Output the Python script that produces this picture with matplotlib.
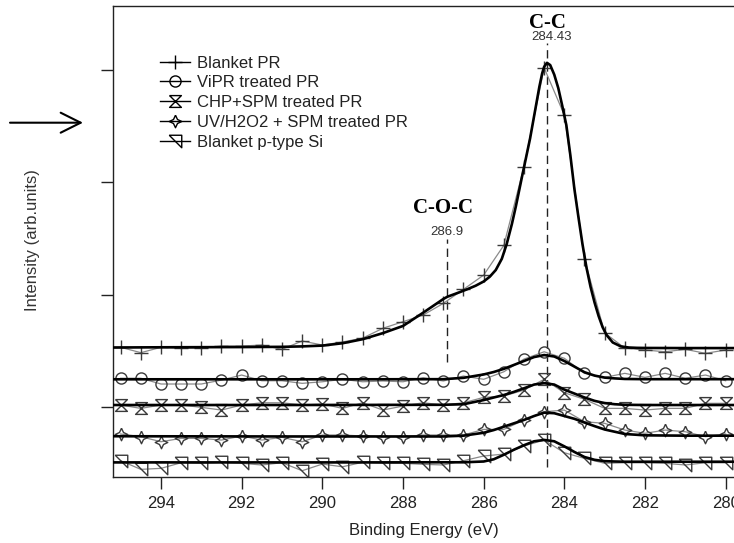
import matplotlib
matplotlib.use("Agg")
import matplotlib.pyplot as plt
from matplotlib.lines import Line2D

plt.rcParams['font.family'] = ['Liberation Sans', 'DejaVu Sans']

# ---- measured spectra (binding energy in eV, intensity in arb. units, stacked) ----
energy_raw = [295.0, 294.5, 294.0, 293.5, 293.0, 292.5, 292.0, 291.5, 291.0, 290.5,
              290.0, 289.5, 289.0, 288.5, 288.0, 287.5, 287.0, 286.5, 286.0, 285.5,
              285.0, 284.5, 284.0, 283.5, 283.0, 282.5, 282.0, 281.5, 281.0, 280.5, 280.0]

raw_blanket_pr = [15.32, 14.84, 15.32, 15.23, 15.23, 15.43, 15.43, 15.52, 15.14, 15.88,
                  15.52, 15.79, 16.14, 17.01, 17.60, 18.19, 19.23, 20.48, 21.75, 24.40,
                  31.40, 40.20, 36.00, 23.20, 16.60, 15.25, 15.08, 14.92, 15.14, 14.78, 15.08]
raw_vipr = [12.56, 12.56, 12.05, 12.05, 12.05, 12.40, 12.85, 12.34, 12.34, 12.11,
            12.25, 12.47, 12.25, 12.32, 12.25, 12.61, 12.32, 12.76, 12.47, 13.14,
            14.27, 14.92, 14.34, 13.00, 12.64, 13.00, 12.64, 13.00, 12.56, 12.85, 12.34]
raw_chp_spm = [10.18, 9.88, 10.18, 10.18, 9.97, 9.73, 10.18, 10.38, 10.38, 10.18,
               10.27, 9.88, 10.38, 9.73, 10.09, 10.38, 10.18, 10.38, 10.86, 10.98,
               11.51, 12.47, 11.27, 10.69, 9.88, 9.88, 9.73, 9.88, 9.88, 10.33, 10.33]
raw_uv_spm = [7.60, 7.36, 6.91, 7.21, 7.21, 7.06, 7.42, 7.06, 7.30, 6.91,
              7.51, 7.51, 7.42, 7.36, 7.36, 7.51, 7.51, 7.51, 8.01, 8.01,
              8.84, 9.58, 9.73, 8.69, 8.55, 7.95, 7.66, 7.95, 7.80, 7.36, 7.60]
raw_si = [5.22, 4.45, 4.54, 5.04, 4.99, 5.08, 4.99, 4.84, 5.04, 4.33,
          4.92, 4.68, 5.08, 4.99, 4.99, 4.90, 4.84, 5.22, 5.64, 5.81,
          6.53, 7.06, 5.93, 5.43, 4.99, 5.04, 5.04, 4.99, 4.84, 5.04, 5.04]

# ---- fitted envelopes ----
energy_fit_pr = [295.2, 294.0, 293.0, 292.0, 291.0, 290.5, 290.0, 289.5, 289.0, 288.5,
                 288.0, 287.5, 287.0, 286.9, 286.6, 286.4, 286.2, 286.0, 285.85, 285.7,
                 285.55, 285.43, 285.3, 285.2, 285.05, 284.95, 284.85, 284.74, 284.62,
                 284.55, 284.5, 284.43, 284.35, 284.25, 284.15, 284.05, 283.95, 283.85,
                 283.75, 283.65, 283.55, 283.45, 283.35, 283.25, 283.15, 283.05, 282.95,
                 282.8, 282.6, 282.4, 282.2, 282.0, 281.0, 280.0, 279.0]
fit_blanket_pr = [15.30, 15.32, 15.33, 15.34, 15.36, 15.40, 15.47, 15.68, 16.04, 16.58,
                  17.22, 18.40, 19.62, 19.82, 20.22, 20.50, 20.80, 21.18, 21.60, 22.20,
                  23.20, 24.50, 26.30, 27.90, 30.50, 32.20, 33.90, 36.10, 38.50,
                  39.70, 40.30, 40.65, 40.45, 39.60, 38.40, 36.80, 35.10, 32.40,
                  29.40, 26.90, 24.50, 22.40, 20.70, 19.30, 18.10, 17.10, 16.40,
                  15.75, 15.40, 15.30, 15.27, 15.26, 15.25, 15.25, 15.25]

energy_fit = [295.2, 293.0, 291.0, 289.0, 287.0, 286.5, 286.0, 285.75, 285.5, 285.25,
              285.0, 284.75, 284.5, 284.25, 284.0, 283.75, 283.5, 283.25, 283.0, 282.75,
              282.5, 282.0, 281.0, 280.0, 279.0]
fit_vipr = [12.47, 12.47, 12.47, 12.47, 12.48, 12.60, 12.90, 13.12, 13.40, 13.75,
            14.10, 14.45, 14.63, 14.50, 14.10, 13.60, 13.10, 12.80, 12.62, 12.55,
            12.50, 12.48, 12.48, 12.48, 12.48]
fit_chp_spm = [10.18, 10.18, 10.18, 10.19, 10.20, 10.25, 10.62, 10.85, 11.07, 11.35,
               11.67, 12.00, 12.13, 12.00, 11.55, 11.20, 10.85, 10.55, 10.35, 10.25,
               10.20, 10.18, 10.18, 10.18, 10.18]
fit_uv_spm = [7.40, 7.39, 7.38, 7.38, 7.38, 7.45, 7.71, 7.95, 8.25, 8.55,
              8.85, 9.20, 9.50, 9.45, 9.20, 8.95, 8.62, 8.30, 8.00, 7.80,
              7.60, 7.48, 7.45, 7.45, 7.45]
fit_si = [5.07, 5.07, 5.07, 5.07, 5.08, 5.08, 5.15, 5.35, 5.75, 6.20,
          6.60, 6.95, 7.07, 6.95, 6.50, 6.00, 5.55, 5.30, 5.18, 5.15,
          5.13, 5.13, 5.13, 5.13, 5.13]

series_labels = ["Blanket PR", "ViPR treated PR", "CHP+SPM treated PR",
                 "UV/H2O2 + SPM treated PR", "Blanket p-type Si"]

peak_cc = 284.43
peak_coc = 286.9
xticks = [294, 292, 290, 288, 286, 284, 282, 280]
yticks = [10, 20, 30, 40]

# ---- marker shapes ----
hourglass = [(-1, 1), (1, 1), (-1, -1), (1, -1), (-1, 1)]
corner_tri = [(-1, 1), (1, 1), (1, -1), (-1, 1)]
star4 = [(0, 1), (0.32, 0.32), (1, 0), (0.32, -0.32), (0, -1),
         (-0.32, -0.32), (-1, 0), (-0.32, 0.32), (0, 1)]

markers = ['+', 'o', hourglass, star4, corner_tri]
msizes = [10, 8, 8.5, 9, 9]
raw_sets = [raw_blanket_pr, raw_vipr, raw_chp_spm, raw_uv_spm, raw_si]
fits = [(energy_fit_pr, fit_blanket_pr), (energy_fit, fit_vipr),
        (energy_fit, fit_chp_spm), (energy_fit, fit_uv_spm), (energy_fit, fit_si)]

W, H = 734, 543
fig = plt.figure(figsize=(W / 100, H / 100), dpi=100)
ax_left, ax_bottom = 113 / W, 66 / H
ax = fig.add_axes([ax_left, ax_bottom, (766 - 113) / W, (537 - 66) / H])

mk_col = '#3a3a3a'
for raw, mk, ms in zip(raw_sets, markers, msizes):
    ax.plot(energy_raw, raw, color='#8a8a8a', lw=0.9, marker=mk, ms=ms,
            mfc='none', mec=mk_col, mew=1.0, zorder=2)
for ex, fy in fits:
    ax.plot(ex, fy, color='black', lw=1.9, zorder=3, solid_joinstyle='round')

# peak position guides
ax.plot([peak_cc, peak_cc], [4.66, 42.4], color='#222222', lw=1.0,
        dashes=(6, 3.5), zorder=1)
ax.plot([peak_coc, peak_coc], [14.0, 25.0], color='#222222', lw=1.0,
        dashes=(6, 3.5), zorder=1)

ax.text(peak_cc, 43.72, "C-C", family='Liberation Serif', weight='bold',
        fontsize=15, ha='center', va='baseline', color='black')
ax.text(peak_cc - 0.12, 42.68, "284.43", fontsize=9.5, ha='center',
        va='baseline', color='#333333')
ax.text(peak_coc + 0.1, 27.25, "C-O-C", family='Liberation Serif', weight='bold',
        fontsize=15, ha='center', va='baseline', color='black')
ax.text(peak_coc + 0.02, 25.32, "286.9", fontsize=9.5, ha='center',
        va='baseline', color='#333333')

ax.set_xlim(295.19, 279.0)
ax.set_ylim(3.77, 45.71)
ax.set_xticks(xticks)
ax.set_xticklabels([str(t) for t in xticks])
ax.set_yticks(yticks)
ax.set_yticklabels([])
ax.tick_params(direction='out', length=8.3, width=1.0, color='#222222',
               labelsize=12, labelcolor='#222222', pad=5.5)
for s in ['left', 'bottom', 'top']:
    ax.spines[s].set_linewidth(1.0)
    ax.spines[s].set_color('#222222')
ax.spines['right'].set_visible(False)

fig.text(424 / W, 1 - 531 / H, "Binding Energy (eV)", fontsize=12,
         ha='center', va='center', color='#222222')
fig.text(33 / W, 1 - 240 / H, "Intensity (arb.units)", fontsize=12,
         rotation=90, ha='center', va='center', color='#333333')

handles = [Line2D([], [], color='black', lw=1.0, marker=mk, ms=ms, mfc='none',
                  mec='black', mew=1.0)
           for mk, ms in zip(markers, msizes)]
fig.legend(handles, series_labels, loc='upper left',
           bbox_to_anchor=(160 / W, 1 - 55.5 / H), frameon=False, fontsize=12,
           handlelength=1.8, handletextpad=0.4, labelspacing=0.29,
           borderpad=0, borderaxespad=0, labelcolor='#222222')

# arrow at the left margin
fig.add_artist(matplotlib.patches.FancyArrowPatch(
    (10 / W, 1 - 122.7 / H), (83 / W, 1 - 122.7 / H),
    transform=fig.transFigure, arrowstyle='->', mutation_scale=36,
    lw=1.5, color='black', shrinkA=0, shrinkB=0))

fig.savefig("out.png", dpi=100)
